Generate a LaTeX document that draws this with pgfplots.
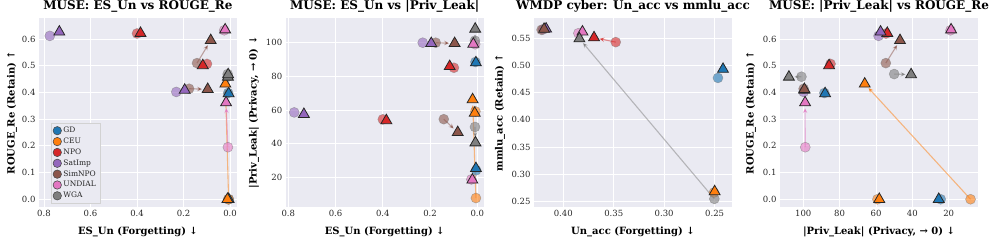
\documentclass[border=0pt]{standalone}
\usepackage{pgfplots}
\pgfplotsset{compat=1.18}
\usepackage{fontspec}
\setmainfont{DejaVu Serif}
\usetikzlibrary{arrows.meta,shadows}
\definecolor{bgc}{HTML}{EAEAF2}
\definecolor{cGD}{HTML}{1F77B4}
\definecolor{cCEU}{HTML}{FF7F0E}
\definecolor{cNPO}{HTML}{D62728}
\definecolor{cSat}{HTML}{9467BD}
\definecolor{cSim}{HTML}{8C564B}
\definecolor{cUND}{HTML}{E377C2}
\definecolor{cWGA}{HTML}{7F7F7F}

% link / circle / triangle passes
\newcommand\LkP[5]{\addplot[forget plot, draw=#1, draw opacity=0.5, line width=1.1pt, -{Stealth[length=5pt,width=4.5pt]}, shorten >=5.5pt] coordinates {(#2,#3) (#4,#5)};}
\newcommand\CiP[5]{\addplot[forget plot, only marks, mark=*, mark size=5pt, mark options={fill=#1, fill opacity=0.6, draw=gray, draw opacity=0.6, line width=0.5pt}] coordinates {(#2,#3)};}
\newcommand\TrP[5]{\addplot[forget plot, only marks, mark=triangle*, mark size=6.3pt, mark options={fill=#1, draw=black!85, line width=0.8pt}] coordinates {(#4,#5)};}
\newcommand\NoP[5]{}
\newcommand\drawall[1]{\let\mkp\LkP\let\mkq\NoP #1\let\mkp\CiP\let\mkq\CiP #1\let\mkp\TrP\let\mkq\TrP #1}

% MUSE: ES_Un vs ROUGE_Re
\def\dataA{%
\mkq{cGD}{0.008}{0.398}{0.006}{0.396}%
\mkq{cGD}{0.005}{0.0}{0.006}{0.0}%
\mkp{cCEU}{0.006}{0.0}{0.020}{0.432}%
\mkq{cCEU}{0.008}{0.0}{0.011}{0.0}%
\mkq{cNPO}{0.099}{0.507}{0.117}{0.501}%
\mkq{cNPO}{0.400}{0.621}{0.385}{0.622}%
\mkq{cSat}{0.231}{0.402}{0.195}{0.409}%
\mkq{cSat}{0.775}{0.612}{0.734}{0.627}%
\mkp{cSim}{0.176}{0.414}{0.096}{0.412}%
\mkp{cSim}{0.142}{0.510}{0.083}{0.595}%
\mkp{cUND}{0.009}{0.195}{0.017}{0.362}%
\mkq{cUND}{0.025}{0.633}{0.021}{0.635}%
\mkq{cWGA}{0.010}{0.459}{0.009}{0.458}%
\mkq{cWGA}{0.010}{0.469}{0.008}{0.467}%
}
% MUSE: ES_Un vs |Priv_Leak|
\def\dataB{%
\mkq{cGD}{0.008}{88.4}{0.006}{88.0}%
\mkq{cGD}{0.005}{24.4}{0.006}{25.5}%
\mkp{cCEU}{0.006}{8.0}{0.020}{66.2}%
\mkq{cCEU}{0.008}{59.2}{0.011}{58.2}%
\mkq{cNPO}{0.099}{85.0}{0.117}{85.8}%
\mkq{cNPO}{0.400}{54.5}{0.385}{53.8}%
\mkq{cSat}{0.231}{99.8}{0.195}{99.4}%
\mkq{cSat}{0.775}{58.6}{0.734}{57.5}%
\mkp{cSim}{0.176}{99.8}{0.096}{99.4}%
\mkp{cSim}{0.142}{54.6}{0.083}{46.8}%
\mkq{cUND}{0.009}{98.9}{0.017}{99.0}%
\mkq{cUND}{0.025}{19.0}{0.021}{18.7}%
\mkp{cWGA}{0.010}{101.0}{0.009}{107.9}%
\mkp{cWGA}{0.010}{50.0}{0.008}{40.7}%
}
% WMDP cyber: Un_acc vs mmlu_acc
\def\dataC{%
\mkq{cGD}{0.2467}{0.477}{0.2417}{0.493}%
\mkq{cCEU}{0.2507}{0.2665}{0.2500}{0.2683}%
\mkp{cNPO}{0.348}{0.5427}{0.3695}{0.551}%
\mkq{cSat}{0.420}{0.566}{0.417}{0.567}%
\mkq{cSim}{0.4215}{0.5653}{0.419}{0.5665}%
\mkq{cUND}{0.385}{0.559}{0.381}{0.5616}%
\mkp{cWGA}{0.2503}{0.255}{0.384}{0.549}%
}
% MUSE: |Priv_Leak| vs ROUGE_Re
\def\dataD{%
\mkq{cGD}{88.4}{0.398}{88.0}{0.396}%
\mkq{cGD}{24.4}{0.0}{25.5}{0.0}%
\mkp{cCEU}{8.0}{0.0}{66.2}{0.432}%
\mkq{cCEU}{59.2}{0.0}{58.2}{0.0}%
\mkq{cNPO}{85.0}{0.507}{85.8}{0.501}%
\mkq{cNPO}{54.5}{0.621}{53.8}{0.622}%
\mkq{cSat}{99.8}{0.402}{99.4}{0.409}%
\mkq{cSat}{58.6}{0.612}{57.5}{0.627}%
\mkq{cSim}{99.8}{0.414}{99.4}{0.412}%
\mkp{cSim}{54.6}{0.510}{46.8}{0.595}%
\mkp{cUND}{98.9}{0.195}{99.0}{0.362}%
\mkq{cUND}{19.0}{0.633}{18.7}{0.635}%
\mkp{cWGA}{101.0}{0.459}{107.9}{0.458}%
\mkp{cWGA}{50.0}{0.469}{40.7}{0.467}%
}

\pgfplotsset{
  panel/.style={
    width=198pt, height=189pt, scale only axis, anchor=south west,
    axis background/.style={fill=bgc},
    axis line style={draw=none},
    tick style={draw=none},
    major tick length=0pt,
    grid=major, grid style={white, line width=0.9pt},
    x dir=reverse,
    tick label style={font=\fontsize{8.5}{10}\selectfont, text=black!85},
    label style={font=\bfseries\fontsize{10}{12}\selectfont},
    title style={font=\bfseries\fontsize{12}{14}\selectfont, at={(axis description cs:0.5,1.011)}, anchor=base},
    xlabel style={at={(axis description cs:0.5,-0.148)}, anchor=base},
  },
  leg/.style={only marks, mark=*, mark size=4.2pt, mark options={fill=#1, draw=black!70, line width=0.6pt}},
}

\begin{document}
\begin{tikzpicture}
\useasboundingbox (0,0) rectangle (996pt,242pt);

\begin{axis}[panel, at={(39pt,35pt)},
  title={MUSE: ES\_Un vs ROUGE\_Re},
  xlabel={ES\_Un (Forgetting) ↓}, ylabel={ROUGE\_Re (Retain) ↑},
  ylabel style={at={(axis description cs:-0.136,0.5)}, anchor=center},
  xmin=-0.03, xmax=0.8215, ymin=-0.029, ymax=0.679,
  xtick={0,0.2,0.4,0.6,0.8}, xticklabels={0.0,0.2,0.4,0.6,0.8},
  ytick={0,0.1,0.2,0.3,0.4,0.5,0.6}, yticklabels={0.0,0.1,0.2,0.3,0.4,0.5,0.6},
  legend style={at={(axis description cs:0.06,0.021)}, anchor=south west,
    fill=bgc, draw=gray!35, drop shadow={shadow xshift=1.5pt, shadow yshift=-1.5pt, fill=gray!70},
    font=\fontsize{7.5}{9}\selectfont, text=black!85, inner xsep=2pt, inner ysep=1.5pt, row sep=-0.2pt},
  legend cell align=left,
]
\drawall{\dataA}
\addlegendimage{leg=cGD}\addlegendentry{GD}
\addlegendimage{leg=cCEU}\addlegendentry{CEU}
\addlegendimage{leg=cNPO}\addlegendentry{NPO}
\addlegendimage{leg=cSat}\addlegendentry{SatImp}
\addlegendimage{leg=cSim}\addlegendentry{SimNPO}
\addlegendimage{leg=cUND}\addlegendentry{UNDIAL}
\addlegendimage{leg=cWGA}\addlegendentry{WGA}
\end{axis}

\begin{axis}[panel, at={(285.7pt,35pt)},
  title={MUSE: ES\_Un vs |Priv\_Leak|},
  xlabel={ES\_Un (Forgetting) ↓}, ylabel={|Priv\_Leak| (Privacy, → 0) ↓},
  ylabel style={at={(axis description cs:-0.16,0.5)}, anchor=center},
  xmin=-0.027, xmax=0.811, ymin=2.7, ymax=114.4,
  xtick={0,0.2,0.4,0.6,0.8}, xticklabels={0.0,0.2,0.4,0.6,0.8},
  ytick={20,40,60,80,100}, yticklabels={20,40,60,80,100},
]
\drawall{\dataB}
\end{axis}

\begin{axis}[panel, at={(534pt,35pt)},
  title={WMDP cyber: Un\_acc vs mmlu\_acc},
  xlabel={Un\_acc (Forgetting) ↓}, ylabel={mmlu\_acc (Retain) ↑},
  ylabel style={at={(axis description cs:-0.172,0.5)}, anchor=center},
  xmin=0.2328, xmax=0.429, ymin=0.240, ymax=0.587,
  xtick={0.25,0.30,0.35,0.40}, xticklabels={0.25,0.30,0.35,0.40},
  ytick={0.25,0.30,0.35,0.40,0.45,0.50,0.55}, yticklabels={0.25,0.30,0.35,0.40,0.45,0.50,0.55},
]
\drawall{\dataC}
\end{axis}

\begin{axis}[panel, at={(780pt,35pt)},
  title={MUSE: |Priv\_Leak| vs ROUGE\_Re},
  xlabel={|Priv\_Leak| (Privacy, → 0) ↓}, ylabel={ROUGE\_Re (Retain) ↑},
  ylabel style={at={(axis description cs:-0.146,0.5)}, anchor=center},
  xmin=3.9, xmax=112.8, ymin=-0.029, ymax=0.679,
  xtick={20,40,60,80,100}, xticklabels={20,40,60,80,100},
  ytick={0,0.1,0.2,0.3,0.4,0.5,0.6}, yticklabels={0.0,0.1,0.2,0.3,0.4,0.5,0.6},
]
\drawall{\dataD}
\end{axis}
\end{tikzpicture}
\end{document}
